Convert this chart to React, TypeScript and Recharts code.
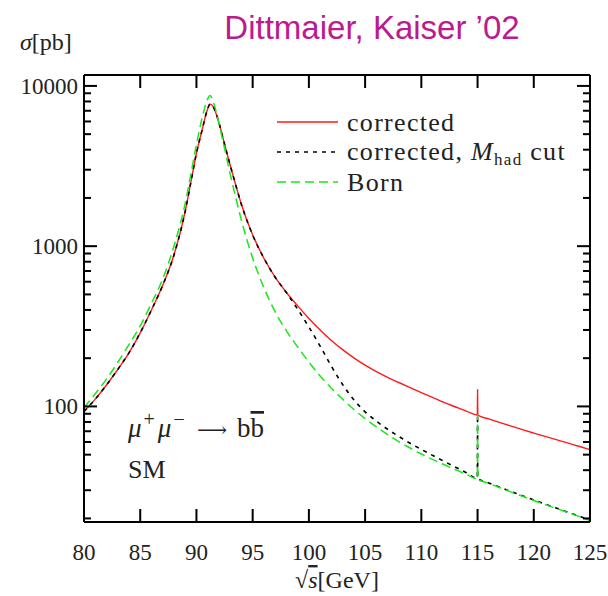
import { LineChart, Line, XAxis, YAxis } from 'recharts';

const SERIF = '"Liberation Serif", "DejaVu Serif", serif';
const SANS = '"Liberation Sans", Arial, sans-serif';

// sqrt(s) in GeV
const sqrtS = [
  80, 81, 82, 83, 84, 85, 86, 87, 88, 89, 89.5, 90, 90.5, 91, 91.2, 91.5, 92, 92.5, 93, 93.5, 94,
  95, 96, 97, 98, 99, 100, 101, 102, 103, 104, 105, 106, 107, 108, 109, 110, 111, 112, 113, 114,
  114.98, 115, 115.02, 116, 117, 118, 119, 120, 121, 122, 123, 124, 125,
];

// sigma [pb]
const corrected = [
  93, 111, 136, 170, 216, 288, 400, 570, 880, 1650, 2500, 3800, 5300, 7200, 7700, 7400, 5900, 4325, 3200, 2400, 1820,
  1175, 841, 640, 514, 424, 354, 300, 258, 226, 201, 181, 165, 152, 141, 131, 122, 114, 106, 99.5, 93.5,
  88.3, 127, 88.2, 83.6, 79.3, 75.3, 71.6, 68.2, 65, 62, 59.2, 56.4, 53.8,
];

const correctedCut = [
  93, 111, 136, 170, 216, 288, 400, 570, 880, 1650, 2500, 3800, 5300, 7200, 7700, 7400, 5900, 4325, 3200, 2400, 1820,
  1175, 841, 640, 514, 404, 313, 238, 178, 137, 110, 92.5, 81, 72, 65, 58.9, 53.9, 49.5, 45.5, 41.9, 38.6,
  35.6, 88, 35.5, 33.3, 31.3, 29.4, 27.7, 26.1, 24.6, 23.2, 21.9, 20.7, 19.5,
];

const born = [
  98, 120, 148, 188, 243, 318, 440, 625, 1000, 1850, 2800, 4300, 6300, 8300, 8700, 7960, 5830, 4080, 2825, 2000, 1450,
  843, 551, 390, 296, 235, 189, 155, 130, 111, 95.7, 84, 74.5, 66.7, 60.3, 55, 50.5, 46.7, 43.4, 40.4, 37.7,
  35.3, 88, 35.2, 33.1, 31.1, 29.2, 27.5, 25.9, 24.4, 23.1, 21.8, 20.6, 19.4,
];

const xTicks = [80, 85, 90, 95, 100, 105, 110, 115, 120, 125];
const yMajor = [100, 1000, 10000];
const yTicks = [
  20, 30, 40, 50, 60, 70, 80, 90, 100, 200, 300, 400, 500, 600, 700, 800, 900,
  1000, 2000, 3000, 4000, 5000, 6000, 7000, 8000, 9000, 10000,
];

const data = sqrtS.map((s, i) => ({
  s,
  corrected: corrected[i],
  correctedCut: correctedCut[i],
  born: born[i],
}));

const series = [
  { key: 'corrected', color: '#ff1a1a', dash: undefined, width: 1.4 },
  { key: 'correctedCut', color: '#000000', dash: '4 5', width: 1.6 },
  { key: 'born', color: '#18e818', dash: '9 5', width: 1.5 },
];

const MAJOR = 13;
const MINOR = 7;
const textStyle = { fontFamily: SERIF };

const BottomTick = (props: any) => {
  const { x, y, payload } = props;
  return (
    <g>
      <line x1={x} y1={y} x2={x} y2={y - MAJOR} stroke="#000" strokeWidth={2} />
      <text x={x} y={y + 38} textAnchor="middle" style={textStyle} fontSize={23} fill="#222">
        {payload.value}
      </text>
    </g>
  );
};

const TopTick = (props: any) => {
  const { x, y } = props;
  return <line x1={x} y1={y} x2={x} y2={y + MAJOR} stroke="#000" strokeWidth={2} />;
};

const LeftTick = (props: any) => {
  const { x, y, payload } = props;
  const major = yMajor.includes(payload.value);
  return (
    <g>
      <line x1={x} y1={y} x2={x + (major ? MAJOR : MINOR)} y2={y} stroke="#000" strokeWidth={2} />
      {major && (
        <text x={x - 6} y={y} dy="0.35em" textAnchor="end" style={textStyle} fontSize={23} fill="#222">
          {payload.value}
        </text>
      )}
    </g>
  );
};

const RightTick = (props: any) => {
  const { x, y, payload } = props;
  const major = yMajor.includes(payload.value);
  return <line x1={x} y1={y} x2={x - (major ? MAJOR : MINOR)} y2={y} stroke="#000" strokeWidth={2} />;
};

export default function App() {
  const axisLine = { stroke: '#000', strokeWidth: 2 };
  return (
    <div style={{ position: 'absolute', left: 0, top: 0, width: 608, height: 596, background: '#fff' }}>
      <LineChart width={608} height={596} data={data} margin={{ top: 0, right: 0, bottom: 0, left: 0 }}>
        <XAxis
          dataKey="s"
          type="number"
          domain={[80, 125]}
          ticks={xTicks}
          interval={0}
          height={74}
          tickSize={0}
          tickMargin={0}
          tickLine={false}
          axisLine={axisLine}
          tick={<BottomTick />}
        />
        <XAxis
          xAxisId="top"
          orientation="top"
          dataKey="s"
          type="number"
          domain={[80, 125]}
          ticks={xTicks}
          interval={0}
          height={75}
          tickSize={0}
          tickMargin={0}
          tickLine={false}
          axisLine={axisLine}
          tick={<TopTick />}
        />
        <YAxis
          scale="log"
          type="number"
          domain={[19, 11700]}
          allowDataOverflow
          ticks={yTicks}
          interval={0}
          width={84}
          tickSize={0}
          tickMargin={0}
          tickLine={false}
          axisLine={axisLine}
          tick={<LeftTick />}
        />
        <YAxis
          yAxisId="right"
          orientation="right"
          scale="log"
          type="number"
          domain={[19, 11700]}
          allowDataOverflow
          ticks={yTicks}
          interval={0}
          width={18}
          tickSize={0}
          tickMargin={0}
          tickLine={false}
          axisLine={axisLine}
          tick={<RightTick />}
        />
        {series.map((sr) => (
          <Line
            key={sr.key}
            dataKey={sr.key}
            type="monotone"
            stroke={sr.color}
            strokeWidth={sr.width}
            strokeDasharray={sr.dash}
            dot={false}
            activeDot={false}
            isAnimationActive={false}
          />
        ))}
      </LineChart>

      <svg
        width={608}
        height={596}
        style={{ position: 'absolute', left: 0, top: 0, pointerEvents: 'none' }}
      >
        <text x={372} y={39} textAnchor="middle" style={{ fontFamily: SANS }} fontSize={33} fill="#bc1a8e">
          Dittmaier, Kaiser ’02
        </text>
        <text x={20} y={50} style={textStyle} fontSize={24} fill="#222">
          <tspan fontStyle="italic">σ</tspan>[pb]
        </text>
        <text x={337} y={588} textAnchor="middle" style={textStyle} fontSize={24} fill="#222">
          √<tspan fontStyle="italic" textDecoration="overline">s</tspan>[GeV]
        </text>

        {/* legend */}
        {series.map((sr, i) => (
          <line
            key={sr.key}
            x1={277}
            x2={338}
            y1={122 + i * 30}
            y2={122 + i * 30}
            stroke={sr.color}
            strokeWidth={sr.width}
            strokeDasharray={sr.dash}
          />
        ))}
        <g style={textStyle} fontSize={26} fill="#222" letterSpacing={1.3}>
          <text x={347} y={131}>corrected</text>
          <text x={347} y={160}>
            corrected, <tspan fontStyle="italic">M</tspan>
            <tspan fontSize={17} dy={5}>had</tspan>
            <tspan dy={-5}> cut</tspan>
          </text>
          <text x={347} y={191}>Born</text>
        </g>

        <g style={textStyle} fontSize={27} fill="#222">
          <text x={128} y={437}>
            <tspan fontStyle="italic">μ</tspan>
            <tspan fontSize={20} dx={2} dy={-11}>+</tspan>
            <tspan fontStyle="italic" dx={3} dy={11}>μ</tspan>
            <tspan fontSize={20} dx={2} dy={-11}>−</tspan>
            <tspan x={197} dy={11} fontSize={21}>⟶</tspan>
            <tspan x={237}>b</tspan>
            <tspan textDecoration="overline">b</tspan>
          </text>
          <text x={128} y={478} fontSize={26}>SM</text>
        </g>
      </svg>
    </div>
  );
}
